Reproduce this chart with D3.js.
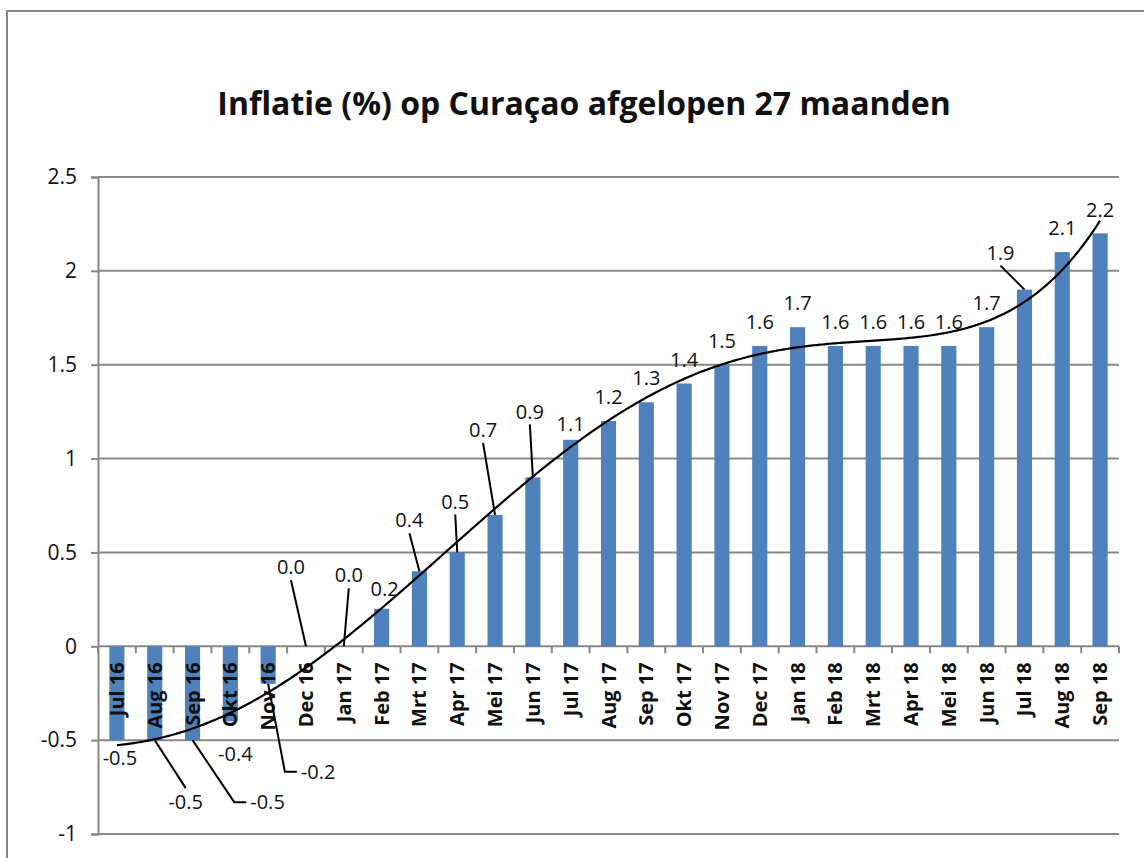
<!DOCTYPE html>
<html>
<head>
<meta charset="utf-8">
<script src="https://cdn.jsdelivr.net/npm/d3@7"></script>
<style>
  body { margin: 0; background: #fff; }
  svg { display: block; }
  text { font-family: "Open Sans", "Noto Sans", sans-serif; fill: #111; }
</style>
</head>
<body>
<div id="chart"></div>
<script>
// categories, values and axis ticks
const months = ['Jul 16', 'Aug 16', 'Sep 16', 'Okt 16', 'Nov 16', 'Dec 16',
  'Jan 17', 'Feb 17', 'Mrt 17', 'Apr 17', 'Mei 17', 'Jun 17', 'Jul 17', 'Aug 17',
  'Sep 17', 'Okt 17', 'Nov 17', 'Dec 17', 'Jan 18', 'Feb 18', 'Mrt 18', 'Apr 18',
  'Mei 18', 'Jun 18', 'Jul 18', 'Aug 18', 'Sep 18'];
const inflation = [-0.5, -0.5, -0.5, -0.4, -0.2, 0.0, 0.0, 0.2, 0.4, 0.5, 0.7, 0.9,
  1.1, 1.2, 1.3, 1.4, 1.5, 1.6, 1.7, 1.6, 1.6, 1.6, 1.6, 1.7, 1.9, 2.1, 2.2];
const yTicks = [-1, -0.5, 0, 0.5, 1, 1.5, 2, 2.5];
const chartTitle = 'Inflatie (%) op Curaçao afgelopen 27 maanden';

// label nudges (px) away from the default spot, and leader type (0 none, 1 straight, 2 elbow)
const labelNudge = [[3, 0], [31, 44], [75, 44], [5, 14], [50, 70], [-15, -55], [5, -47],
  [3, 4], [-10, -27], [-2, -27], [-12, -61], [-3, -42], [0, 8], [0, 0], [0, 0], [0, 0],
  [0, 0], [0, 0], [0, 0], [0, 0], [0, 0], [0, 0], [0, 0], [0, 0], [-24, -13], [0, 0], [0, 0]];
const leaderType = [0, 1, 2, 0, 2, 1, 1, 0, 1, 1, 1, 1, 0, 0, 0, 0, 0, 0, 0, 0, 0, 0, 0, 0, 1, 0, 0];

const width = 1144, height = 858;
const plot = { left: 98, right: 1119, top: 177, bottom: 834 };
const gridColor = '#878787';
const barColor = '#4f81bd';

const svg = d3.select('#chart').append('svg')
  .attr('width', width)
  .attr('height', height);

// chart area border (runs off the picture on the right and bottom)
svg.append('rect')
  .attr('x', 7).attr('y', 11)
  .attr('width', 1300).attr('height', 1000)
  .attr('fill', 'none')
  .attr('stroke', gridColor)
  .attr('stroke-width', 2);

svg.append('text')
  .attr('x', 584).attr('y', 115)
  .attr('text-anchor', 'middle')
  .style('font-size', '32px')
  .style('font-weight', 'bold')
  .text(chartTitle);

var x = d3.scaleBand()
  .domain(months)
  .range([plot.left, plot.right])
  .paddingInner(0.6)
  .paddingOuter(0.3);

var y = d3.scaleLinear()
  .domain([-1, 2.5])
  .range([plot.bottom, plot.top]);

// gridlines
svg.append('g').selectAll('line')
  .data(yTicks)
  .enter().append('line')
  .attr('x1', plot.left).attr('x2', plot.right)
  .attr('y1', d => y(d)).attr('y2', d => y(d))
  .attr('stroke', gridColor)
  .attr('stroke-width', 2);

// y axis
var yAxis = svg.append('g')
  .attr('transform', 'translate(' + plot.left + ',0)')
  .call(d3.axisLeft(y).tickValues(yTicks).tickSize(7).tickPadding(14)
    .tickFormat(d => String(d)));
yAxis.select('.domain').attr('stroke', gridColor).attr('stroke-width', 2);
yAxis.selectAll('.tick line').attr('stroke', gridColor).attr('stroke-width', 2);
yAxis.selectAll('.tick text')
  .style('font-size', '21px')
  .style('font-family', '"Open Sans", sans-serif')
  .attr('fill', '#111');

// bars
svg.append('g').selectAll('rect')
  .data(inflation)
  .enter().append('rect')
  .attr('x', (d, i) => x(months[i]))
  .attr('width', x.bandwidth())
  .attr('y', d => y(Math.max(0, d)))
  .attr('height', d => Math.abs(y(d) - y(0)))
  .attr('fill', barColor);

// category ticks along the zero line
var step = x.step();
svg.append('g').selectAll('line')
  .data(d3.range(months.length + 1))
  .enter().append('line')
  .attr('x1', k => plot.left + k * step).attr('x2', k => plot.left + k * step)
  .attr('y1', y(0)).attr('y2', y(0) + 7)
  .attr('stroke', gridColor)
  .attr('stroke-width', 2);

// category labels, rotated, hanging under the zero line
svg.append('g').selectAll('text')
  .data(months)
  .enter().append('text')
  .attr('transform', d => 'translate(' + (x(d) + x.bandwidth() / 2 + 7) + ',' + (y(0) + 16) + ') rotate(-90)')
  .attr('text-anchor', 'end')
  .style('font-size', '20px')
  .style('font-weight', 'bold')
  .text(d => d);

// polynomial trendline (order 6, least squares on the bar values)
function polyFit(xs, ys, order) {
  var n = order + 1;
  var A = [];
  for (var r = 0; r < n; r++) {
    A.push(new Array(n + 1).fill(0));
  }
  xs.forEach(function (xv, k) {
    for (var r = 0; r < n; r++) {
      for (var c = 0; c < n; c++) A[r][c] += Math.pow(xv, r + c);
      A[r][n] += ys[k] * Math.pow(xv, r);
    }
  });
  for (var p = 0; p < n; p++) {
    var best = p;
    for (var r = p + 1; r < n; r++) if (Math.abs(A[r][p]) > Math.abs(A[best][p])) best = r;
    var tmp = A[p]; A[p] = A[best]; A[best] = tmp;
    for (var r = 0; r < n; r++) {
      if (r === p) continue;
      var f = A[r][p] / A[p][p];
      for (var c = p; c <= n; c++) A[r][c] -= f * A[p][c];
    }
  }
  var coef = A.map((row, r) => row[n] / row[r]);
  return function (xv) {
    return coef.reduce((s, c, r) => s + c * Math.pow(xv, r), 0);
  };
}

var last = months.length - 1;
var u = i => (i - last / 2) / (last / 2); // scale index to [-1, 1] for a stable fit
var trend = polyFit(inflation.map((d, i) => u(i)), inflation, 6);
var xi = d3.scaleLinear().domain([0, last])
  .range([x(months[0]) + x.bandwidth() / 2, x(months[last]) + x.bandwidth() / 2]);

var trendLine = d3.line()
  .x(d => xi(d))
  .y(d => y(trend(u(d))))
  .curve(d3.curveLinear);

svg.append('path')
  .datum(d3.range(0, last + 0.001, 0.05))
  .attr('d', trendLine)
  .attr('fill', 'none')
  .attr('stroke', '#000')
  .attr('stroke-width', 2.2);

// data labels with leader lines
var labelG = svg.append('g');
inflation.forEach(function (d, i) {
  var cx = x(months[i]) + x.bandwidth() / 2;
  var yEnd = y(d);
  var below = d < 0;
  var lx = cx + labelNudge[i][0];
  var ly = (below ? yEnd + 18 : yEnd - 24) + labelNudge[i][1];

  var t = labelG.append('text')
    .attr('x', lx).attr('y', ly)
    .attr('dy', '0.36em')
    .attr('text-anchor', 'middle')
    .style('font-size', '20px')
    .text(d.toFixed(1));

  if (leaderType[i] === 1) {
    var sy = ly < yEnd ? ly + 13 : ly - 14;
    labelG.append('line')
      .attr('x1', lx).attr('y1', sy)
      .attr('x2', cx).attr('y2', yEnd)
      .attr('stroke', '#000').attr('stroke-width', 2);
  } else if (leaderType[i] === 2) {
    var w = t.node().getComputedTextLength();
    var edge = lx - w / 2;
    labelG.append('polyline')
      .attr('points', [[edge - 4, ly], [edge - 16, ly], [cx, yEnd]].map(p => p.join(',')).join(' '))
      .attr('fill', 'none')
      .attr('stroke', '#000').attr('stroke-width', 2);
  }
});
</script>
</body>
</html>
